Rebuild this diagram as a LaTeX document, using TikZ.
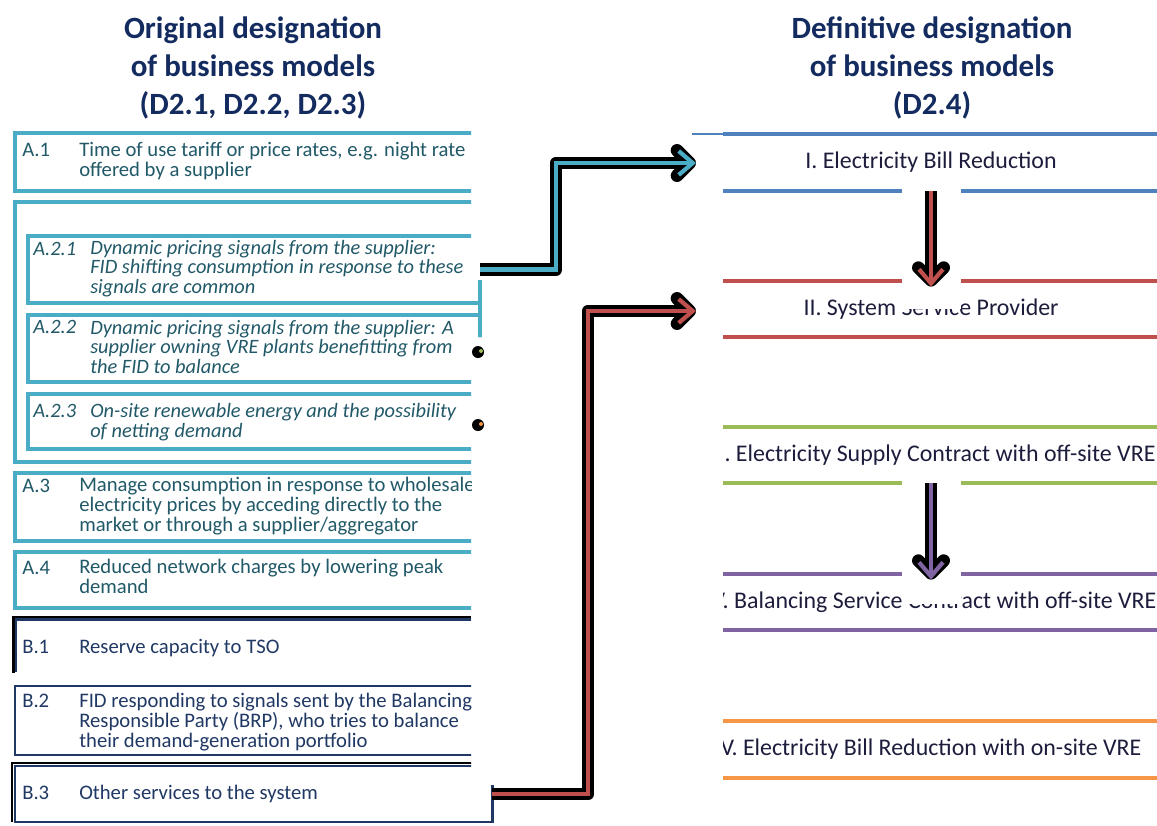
\documentclass[tikz,border=0pt]{standalone}
\usepackage{fontspec}
\setmainfont{Carlito}
\usetikzlibrary{arrows.meta}

\definecolor{tealbd}{HTML}{4BACC6}
\definecolor{tealtx}{HTML}{215968}
\definecolor{navybd}{HTML}{1F3864}
\definecolor{navytx}{HTML}{1F3864}
\definecolor{titlecol}{HTML}{132B5E}
\definecolor{itemtx}{HTML}{1C1C3C}
\definecolor{bandblue}{HTML}{4F81BD}
\definecolor{bandred}{HTML}{C0504D}
\definecolor{bandgreen}{HTML}{9BBB59}
\definecolor{bandpurple}{HTML}{8064A2}
\definecolor{bandorange}{HTML}{F79646}

\tikzset{
	title/.style={align=center, text=titlecol, inner sep=0pt, font=\fontsize{22}{27}\selectfont\bfseries},
	abox/.style={draw=tealbd, fill=white, line width=2.6pt, anchor=north west, inner sep=0pt, outer sep=0pt},
	bbox/.style={draw=navybd, fill=white, line width=2pt, anchor=north west, inner sep=0pt, outer sep=0pt},
	atext/.style={anchor=base west, align=left, inner sep=0pt, text=tealtx, font=\fontsize{14.7}{14.2}\selectfont},
	aitext/.style={atext, font=\fontsize{14.5}{13.8}\selectfont\itshape},
	btext/.style={atext, text=navytx},
	band/.style={minimum width=11.3cm, inner sep=0pt, outer sep=0pt, text=itemtx, font=\fontsize{17}{20}\selectfont},
	barline/.style={line width=2.8pt},
	arrowout/.style={line width=9pt, black, line join=round, -{Straight Barb[round, length=9pt, width=18pt]}},
	arrowin/.style={line width=3pt, -{Straight Barb[length=10pt, width=17pt]}},
}

\begin{document}
\begin{tikzpicture}[x=0.025cm, y=-0.025cm]
	\useasboundingbox (0,0) rectangle (1157,825);

	% titles
	\node(ltitle) at (253,114)[title, anchor=base]{Original designation\\of business models\\(D2.1, D2.2, D2.3)};
	\node(rtitle) at (932,114)[title, anchor=base]{Definitive designation\\of business models\\(D2.4)};

	% original models, left
	\begin{scope}
		\clip (0,120) -- (471,120) -- (471,280) -- (484,280) -- (484,337) -- (471,337) -- (471,785) -- (500,785) -- (500,825) -- (0,825) -- cycle;
		\node(a1box) at (15,133)[abox, minimum width=11.625cm, minimum height=1.45cm]{};
		\node(a2box) at (15,202)[abox, minimum width=11.625cm, minimum height=6.5cm]{};
		\node(a21box) at (28,236)[abox, minimum width=11.3cm, minimum height=1.675cm]{};
		\node(a22box) at (28,315)[abox, minimum width=11.3cm, minimum height=1.675cm]{};
		\node(a23box) at (28,394)[abox, minimum width=11.3cm, minimum height=1.375cm]{};
		\node(a3box) at (15,473)[abox, minimum width=11.625cm, minimum height=1.7cm]{};
		\node(a4box) at (15,552)[abox, minimum width=11.625cm, minimum height=1.4cm]{};
		\draw[black, line width=1.9pt] (13.5,673) -- (13.5,617) -- (471,617);
		\draw[navybd, line width=2pt] (16,672) -- (16,619.5) -- (471,619.5);
		\node(b2box) at (15,686)[bbox, minimum width=11.625cm, minimum height=1.725cm]{};
		\draw[black, line width=2pt] (12,822) -- (12,763) -- (492,763) -- (492,822);
		\node(b3box) at (15,766)[bbox, minimum width=11.925cm, minimum height=1.4cm]{};

		\node(a1lab) at (22,156)[atext]{A.1};
		\node(a1txt) at (79,176)[atext]{Time of use tariff or price rates, e.g. night rate\\offered by a supplier};
		\node(a21lab) at (33,255)[aitext]{A.2.1};
		\node(a21txt) at (90,293)[aitext]{Dynamic pricing signals from the supplier:\\FID shifting consumption in response to these\\signals are common};
		\node(a22lab) at (33,333)[aitext]{A.2.2};
		\node(a22txt) at (90,373)[aitext]{Dynamic pricing signals from the supplier: A\\supplier owning VRE plants benefitting from\\the FID to balance};
		\node(a23lab) at (33,417)[aitext]{A.2.3};
		\node(a23txt) at (90,437)[aitext]{On-site renewable energy and the possibility\\of netting demand};
		\node(a3lab) at (22,492)[atext]{A.3};
		\node(a3txt) at (79,531)[atext]{Manage consumption in response to wholesale\\electricity prices by acceding directly to the\\market or through a supplier/aggregator};
		\node(a4lab) at (22,574)[atext]{A.4};
		\node(a4txt) at (79,593)[atext]{Reduced network charges by lowering peak\\demand};
		\node(b1lab) at (22,653)[btext]{B.1};
		\node(b1txt) at (79,653)[btext]{Reserve capacity to TSO};
		\node(b2lab) at (22,707)[btext]{B.2};
		\node(b2txt) at (79,747)[btext]{FID responding to signals sent by the Balancing\\Responsible Party (BRP), who tries to balance\\their demand-generation portfolio};
		\node(b3lab) at (22,799)[btext]{B.3};
		\node(b3txt) at (79,799)[btext]{Other services to the system};
	\end{scope}

	% definitive models, right
	\draw[bandblue, line width=2pt] (692,134) -- (723,134);
	\begin{scope}
		\clip (723,120) rectangle (1157,825);
		\node(r1) at (931,162.5)[band, minimum height=1.425cm]{I. Electricity Bill Reduction};
		\node(r2) at (931,309)[band, minimum height=1.4cm]{II. System Service Provider};
		\node(r3) at (931,455)[band, minimum height=1.4cm]{III. Electricity Supply Contract with off-site VRE};
		\node(r4) at (931,602)[band, minimum height=1.4cm]{IV. Balancing Service Contract with off-site VRE};
		\node(r5) at (931,749.5)[band, minimum height=1.425cm]{V. Electricity Bill Reduction with on-site VRE};
		\draw[bandblue, barline] (r1.north west) -- (r1.north east);
		\draw[bandblue, barline] (r1.south west) -- (r1.south east);
		\draw[bandred, barline] (r2.north west) -- (r2.north east);
		\draw[bandred, barline] (r2.south west) -- (r2.south east);
		\draw[bandgreen, barline] (r3.north west) -- (r3.north east);
		\draw[bandgreen, barline] (r3.south west) -- (r3.south east);
		\draw[bandpurple, barline] (r4.north west) -- (r4.north east);
		\draw[bandpurple, barline] (r4.south west) -- (r4.south east);
		\draw[bandorange, barline] (r5.north west) -- (r5.north east);
		\draw[bandorange, barline] (r5.south west) -- (r5.south east);
		\fill[white] (902,187) rectangle (961,309);
		\fill[white] (902,480) rectangle (961,604);
	\end{scope}

	% arrows
	\coordinate(in1) at (696,163);
	\coordinate(in2) at (696,311);
	\fill[black] (478,352) circle (6);
	\fill[bandgreen] (481,351) circle (2);
	\fill[black] (478,425) circle (6);
	\fill[bandorange] (481,424) circle (2);
	\draw[arrowout] (a21box.east) -- ++(76,0) |- (in1);
	\draw[arrowin, tealbd] (a21box.east) -- ++(76,0) |- (in1);
	\draw[arrowout] (b3box.east) -- ++(96,0) |- (in2);
	\draw[arrowin, bandred] (b3box.east) -- ++(96,0) |- (in2);
	\draw[arrowout, shorten >=-4pt] (r1.south) -- (r2.north);
	\draw[arrowin, bandred, shorten >=-4pt] (r1.south) -- (r2.north);
	\draw[arrowout, shorten >=-4pt] (r3.south) -- (r4.north);
	\draw[arrowin, bandpurple, shorten >=-4pt] (r3.south) -- (r4.north);

\end{tikzpicture}
\end{document}
